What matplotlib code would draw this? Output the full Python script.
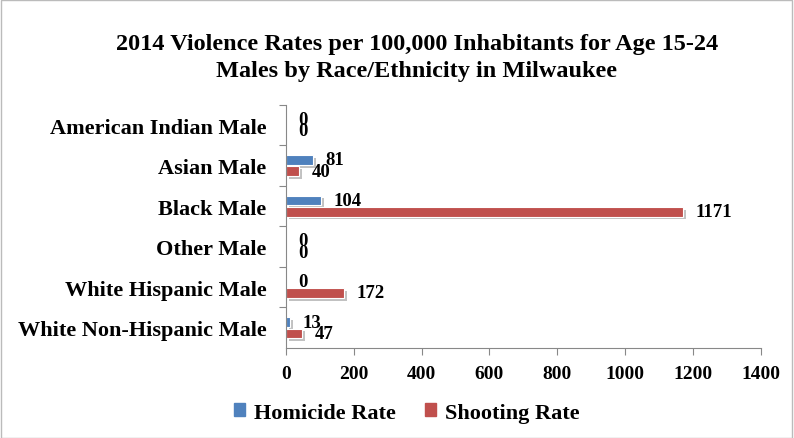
import matplotlib.pyplot as plt
import matplotlib.patheffects as pe
from matplotlib.patches import Rectangle
import numpy as np

categories = ["American Indian Male", "Asian Male", "Black Male", "Other Male",
              "White Hispanic Male", "White Non-Hispanic Male"]
homicide = [0, 81, 104, 0, 0, 13]
shooting = [0, 40, 1171, 0, 172, 47]
series_names = ["Homicide Rate", "Shooting Rate"]
colors = ["#4f81bd", "#c0504d"]

plt.rcParams['font.family'] = ['Liberation Serif', 'DejaVu Serif']

fig = plt.figure(figsize=(7.94, 4.39), dpi=100)
ax = fig.add_axes([0.360, 0.205, 0.598, 0.554])

y = np.arange(len(categories))[::-1]
h = 0.24
shadow = [pe.SimplePatchShadow(offset=(2, -2), shadow_rgbFace='#999999', alpha=0.6), pe.Normal()]

b1 = ax.barh(y + h / 2 + 0.02, homicide, height=h, color=colors[0], edgecolor='white',
             linewidth=0.8, label=series_names[0], path_effects=shadow)
b2 = ax.barh(y - h / 2 - 0.02, shooting, height=h, color=colors[1], edgecolor='white',
             linewidth=0.8, label=series_names[1], path_effects=shadow)

for bars, vals in [(b1, homicide), (b2, shooting)]:
    for bar, v in zip(bars, vals):
        ax.annotate(str(v), (v, bar.get_y() + bar.get_height() / 2),
                    xytext=(9, 0), textcoords='offset points', va='center', ha='left',
                    fontsize=13.5, fontweight='bold')

ax.set_xlim(0, 1400)
ax.set_xticks(range(0, 1401, 200))
ax.set_ylim(-0.5, len(categories) - 0.5)
ax.set_yticks(np.arange(len(categories)) + 0.5)
ax.set_yticklabels([])
ax.set_yticks(y, categories, minor=True)
ax.tick_params(axis='y', which='minor', length=0, pad=14, labelsize=16)
ax.tick_params(axis='y', which='major', length=5, color='#888888')
ax.tick_params(axis='x', length=5, color='#888888', labelsize=14, pad=7)
for lab in ax.get_xticklabels() + ax.get_yticklabels(minor=True):
    lab.set_fontweight('bold')
for s in ['top', 'right']:
    ax.spines[s].set_visible(False)
for s in ['left', 'bottom']:
    ax.spines[s].set_color('#888888')

fig.text(0.525, 0.868, "2014 Violence Rates per 100,000 Inhabitants for Age 15-24\nMales by Race/Ethnicity in Milwaukee",
         ha='center', va='center', fontsize=17.5, fontweight='bold', linespacing=1.4)

handles = [Rectangle((0, 0), 1, 1, color=c) for c in colors]
fig.legend(handles=handles, labels=series_names, loc='center', bbox_to_anchor=(0.512, 0.058), ncol=2,
           frameon=False, prop={'size': 16, 'weight': 'bold'},
           handlelength=0.5, handleheight=0.5, columnspacing=1.3, handletextpad=0.4)

fig.patches.append(Rectangle((0.001, 0.001), 0.997, 0.997, transform=fig.transFigure,
                             fill=False, edgecolor='#bbbbbb', linewidth=1))

fig.savefig("out.png", dpi=100)
